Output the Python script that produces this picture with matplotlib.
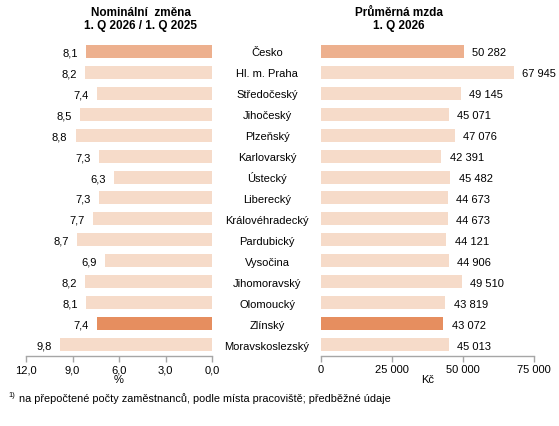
import matplotlib
matplotlib.use("Agg")
import matplotlib.pyplot as plt
from matplotlib.ticker import FuncFormatter

plt.rcParams["font.family"] = ["Liberation Sans", "DejaVu Sans"]

# ── data ─────────────────────────────────────────────────────────
regions = ["Česko", "Hl. m. Praha", "Středočeský", "Jihočeský", "Plzeňský",
           "Karlovarský", "Ústecký", "Liberecký", "Královéhradecký",
           "Pardubický", "Vysočina", "Jihomoravský", "Olomoucký", "Zlínský",
           "Moravskoslezský"]
nominal_change = [8.1, 8.2, 7.4, 8.5, 8.8, 7.3, 6.3, 7.3, 7.7, 8.7, 6.9,
                  8.2, 8.1, 7.4, 9.8]
avg_wage = [50282, 67945, 49145, 45071, 47076, 42391, 45482, 44673, 44673,
            44121, 44906, 49510, 43819, 43072, 45013]
left_ticks = [12.0, 9.0, 6.0, 3.0, 0.0]
right_ticks = [0, 25000, 50000, 75000]

# ── styling ──────────────────────────────────────────────────────
C_CZ = "#EDB08E"
C_REG = "#F6DBC9"
C_ZL = "#E68E5F"
AXIS_C = "#A6A6A6"
colors = [C_CZ if r == "Česko" else C_ZL if r == "Zlínský" else C_REG
          for r in regions]

W, H = 559, 427
fig = plt.figure(figsize=(W / 100, H / 100), dpi=100, facecolor="white")

top_px, bot_px = 42.0, 356.7
ax_b = 1 - bot_px / H
ax_h = (bot_px - top_px) / H
axL = fig.add_axes([26 / W, ax_b, (212 - 26) / W, ax_h])
axR = fig.add_axes([321 / W, ax_b, (534 - 321) / W, ax_h])

ypos = list(range(len(regions)))
BAR_H = 0.62
FS = 8
DY = -0.36 * FS   # baseline shift so cap height sits centred on the bar


def style(ax):
    for s in ["top", "left", "right"]:
        ax.spines[s].set_visible(False)
    ax.spines["bottom"].set_color(AXIS_C)
    ax.spines["bottom"].set_linewidth(1.0)
    ax.tick_params(axis="x", colors=AXIS_C, length=4, width=1.0,
                   labelcolor="black", labelsize=FS, pad=2)
    ax.tick_params(axis="y", left=False, labelleft=False)
    ax.set_ylim(14.535, -0.5)


# left panel: nominal change (reversed axis)
axL.barh(ypos, nominal_change, height=BAR_H, color=colors)
axL.set_xlim(12, 0)
axL.set_xticks(left_ticks)
axL.xaxis.set_major_formatter(FuncFormatter(lambda v, p: f"{v:.1f}".replace(".", ",")))
style(axL)
axL.set_xlabel("%", fontsize=FS, labelpad=0)
for y, v in zip(ypos, nominal_change):
    axL.annotate(f"{v:.1f}".replace(".", ","), (v, y), xytext=(-6, DY),
                 textcoords="offset points", ha="right", va="baseline",
                 fontsize=FS)

# right panel: average wage
axR.barh(ypos, avg_wage, height=BAR_H, color=colors)
axR.set_xlim(0, 75000)
axR.set_xticks(right_ticks)
axR.xaxis.set_major_formatter(FuncFormatter(lambda v, p: f"{int(v):,}".replace(",", " ")))
style(axR)
axR.set_xlabel("Kč", fontsize=FS, labelpad=0)
for y, v in zip(ypos, avg_wage):
    axR.annotate(f"{v:,}".replace(",", " "), (v, y), xytext=(6, DY),
                 textcoords="offset points", ha="left", va="baseline",
                 fontsize=FS)

# region names between the panels
for y, name in zip(ypos, regions):
    axR.annotate(name, (0, y), xycoords=("axes fraction", "data"),
                 xytext=(-(321 - 267) * 0.72, DY), textcoords="offset points",
                 ha="center", va="baseline", fontsize=FS)

# titles
fig.text(141 / W, 1 - 19.5 / H, "Nominální  změna\n1. Q 2026 / 1. Q 2025",
         ha="center", va="center", fontsize=8.5, fontweight="bold",
         linespacing=1.15)
fig.text(399 / W, 1 - 19.5 / H, "Průměrná mzda\n1. Q 2026",
         ha="center", va="center", fontsize=8.5, fontweight="bold",
         linespacing=1.15)

# footnote
fig.text(8 / W, 1 - 395.5 / H, "1)", ha="left", va="center", fontsize=5.5)
fig.text(19 / W, 1 - 398.5 / H,
         "na přepočtené počty zaměstnanců, podle místa pracoviště; předběžné údaje",
         ha="left", va="center", fontsize=7.8)

fig.savefig("out.png", dpi=100, facecolor="white")
